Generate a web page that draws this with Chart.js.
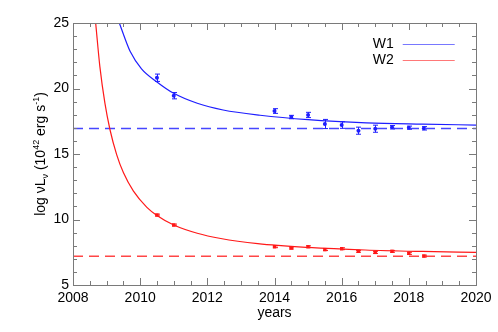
<!DOCTYPE html>
<html><head><meta charset="utf-8">
<script src="https://cdn.jsdelivr.net/npm/chart.js@4/dist/chart.umd.min.js"></script>
<style>html,body{margin:0;padding:0;background:#fff}</style>
</head><body>
<canvas id="c" width="498" height="332" style="width:498px;height:332px;display:block"></canvas>
<script>
// ---- data ----
const epochs   = [2010.5, 2011.0, 2014.0, 2014.5, 2015.0, 2015.5, 2016.0, 2016.5, 2017.0, 2017.5, 2018.0, 2018.45];
const w1Values = [20.82, 19.45, 18.28, 17.82, 17.98, 17.29, 17.21, 16.78, 16.93, 17.04, 17.01, 16.96];
const w1Errors = [0.28, 0.24, 0.18, 0.13, 0.20, 0.35, 0.25, 0.27, 0.27, 0.13, 0.12, 0.13];
const w2Values = [10.34, 9.58, 7.92, 7.82, 7.92, 7.70, 7.77, 7.57, 7.49, 7.57, 7.42, 7.21];
const w2Errors = [0.07, 0.07, 0.07, 0.07, 0.07, 0.07, 0.07, 0.07, 0.08, 0.07, 0.08, 0.07];
const w1CurveX = [2009.38, 2009.55, 2009.70, 2010.04, 2010.49, 2011.0, 2011.7, 2012.47, 2013.57, 2015.0, 2016.74, 2018.4, 2020.0];
const w1CurveY = [25.0, 23.8, 22.85, 21.5, 20.52, 19.63, 18.87, 18.36, 17.96, 17.62, 17.38, 17.28, 17.21];
const w2CurveX = [2008.675, 2008.80, 2008.95, 2009.10, 2009.30, 2009.50, 2009.80, 2010.20, 2010.50, 2011.0, 2011.7, 2012.4, 2013.5, 2015.0, 2016.7, 2018.4, 2020.0];
const w2CurveY = [25.0, 21.67, 18.88, 16.87, 14.95, 13.58, 12.16, 10.93, 10.31, 9.58, 8.95, 8.55, 8.16, 7.87, 7.67, 7.56, 7.49];
const w1Floor = 16.95;
const w2Floor = 7.2;
const xRange = [2008, 2020];
const yRange = [5, 25];
const xMajorStep = 2, xMinorStep = 0.5;
const yMajorStep = 5, yMinorStep = 1;
const legendNames = ['W1', 'W2'];

const BLUE = 'rgb(30,30,255)', RED = 'rgb(255,25,25)';
const FONT = '"Liberation Sans", Arial, Helvetica, sans-serif';

function pts(xs, ys) { return xs.map((x, i) => ({x, y: ys[i]})); }

const errorBars = {
  id: 'errorBars',
  afterDatasetsDraw(chart) {
    const ctx = chart.ctx, ys = chart.scales.y;
    chart.data.datasets.forEach((ds, i) => {
      if (!ds.errors) return;
      const meta = chart.getDatasetMeta(i);
      ctx.save();
      ctx.strokeStyle = ds.borderColor; ctx.lineWidth = 1;
      meta.data.forEach((el, j) => {
        const v = ds.data[j].y, e = ds.errors[j];
        const x = Math.round(el.x) + 0.5;
        const y1 = ys.getPixelForValue(v + e), y2 = ys.getPixelForValue(v - e);
        ctx.beginPath();
        ctx.moveTo(x, y1); ctx.lineTo(x, y2);
        ctx.moveTo(x - 2.5, y1); ctx.lineTo(x + 2.5, y1);
        ctx.moveTo(x - 2.5, y2); ctx.lineTo(x + 2.5, y2);
        ctx.stroke();
      });
      ctx.restore();
    });
  }
};

const frameTicks = {
  id: 'frameTicks',
  afterDraw(chart) {
    const ctx = chart.ctx, a = chart.chartArea, xs = chart.scales.x, ys = chart.scales.y;
    ctx.save();
    ctx.strokeStyle = '#7a7a7a'; ctx.lineWidth = 1;
    ctx.strokeRect(Math.round(a.left) + 0.5, Math.round(a.top) + 0.5, Math.round(a.right - a.left), Math.round(a.bottom - a.top));
    ctx.beginPath();
    const nX = Math.round((xRange[1] - xRange[0]) / xMinorStep);
    for (let k = 1; k < nX; k++) {
      const v = xRange[0] + k * xMinorStep;
      const q = (v - xRange[0]) / xMajorStep;
      const major = Math.abs(q - Math.round(q)) < 1e-6;
      const L = major ? 7 : 4;
      const px = Math.round(xs.getPixelForValue(v)) + 0.5;
      ctx.moveTo(px, a.bottom); ctx.lineTo(px, a.bottom - L);
      ctx.moveTo(px, a.top); ctx.lineTo(px, a.top + L);
    }
    const nY = Math.round((yRange[1] - yRange[0]) / yMinorStep);
    for (let k = 1; k < nY; k++) {
      const v = yRange[0] + k * yMinorStep;
      const major = (v - yRange[0]) % yMajorStep === 0;
      const L = major ? 7 : 4;
      const py = Math.round(ys.getPixelForValue(v)) + 0.5;
      ctx.moveTo(a.left, py); ctx.lineTo(a.left + L, py);
      ctx.moveTo(a.right, py); ctx.lineTo(a.right - L, py);
    }
    ctx.stroke();

    // y-axis title with sub/superscripts
    const segs = [
      {t: 'log νL', s: 0}, {t: 'ν', s: -1}, {t: ' (10', s: 0}, {t: '42', s: 1},
      {t: ' erg s', s: 0}, {t: '-1', s: 1}, {t: ')', s: 0}
    ];
    const big = '14px ' + FONT, small = '9px ' + FONT;
    let total = 0;
    segs.forEach(g => { ctx.font = g.s ? small : big; g.w = ctx.measureText(g.t).width; total += g.w; });
    ctx.translate(40, (a.top + a.bottom) / 2);
    ctx.rotate(-Math.PI / 2);
    ctx.fillStyle = '#000'; ctx.textBaseline = 'alphabetic'; ctx.textAlign = 'left';
    let cx = -total / 2;
    segs.forEach(g => {
      ctx.font = g.s ? small : big;
      const dy = g.s === 1 ? -1 : (g.s === -1 ? 8 : 5);
      ctx.fillText(g.t, cx, dy);
      cx += g.w;
    });
    ctx.restore();

    // legend
    ctx.save();
    ctx.font = '14px ' + FONT; ctx.fillStyle = '#000';
    ctx.textAlign = 'right'; ctx.textBaseline = 'middle';
    const lx = xs.getPixelForValue(2017.55), y0 = a.top + 21;
    const cols = ['rgb(120,120,255)', 'rgb(255,120,120)'];
    legendNames.forEach((n, i) => {
      const yy = y0 + i * 16;
      ctx.fillText(n, lx, yy);
      ctx.strokeStyle = cols[i]; ctx.lineWidth = 1;
      ctx.beginPath(); ctx.moveTo(lx + 9, Math.round(yy) + 0.5); ctx.lineTo(lx + 61, Math.round(yy) + 0.5); ctx.stroke();
    });
    ctx.restore();
  }
};

new Chart(document.getElementById('c'), {
  type: 'scatter',
  data: {
    datasets: [
      {data: pts(w1CurveX, w1CurveY), showLine: true, borderColor: BLUE, borderWidth: 1.2, pointRadius: 0, cubicInterpolationMode: 'monotone'},
      {data: pts(w2CurveX, w2CurveY), showLine: true, borderColor: RED, borderWidth: 1.2, pointRadius: 0, cubicInterpolationMode: 'monotone'},
      {data: pts(xRange, [w1Floor, w1Floor]), showLine: true, borderColor: 'rgb(70,70,255)', borderWidth: 1.5, borderDash: [10, 6], pointRadius: 0},
      {data: pts(xRange, [w2Floor, w2Floor]), showLine: true, borderColor: 'rgb(255,70,70)', borderWidth: 1.5, borderDash: [10, 6], pointRadius: 0},
      {data: pts(epochs, w1Values), errors: w1Errors, borderColor: BLUE, backgroundColor: BLUE, pointRadius: 2, pointStyle: 'circle', borderWidth: 0},
      {data: pts(epochs, w2Values), errors: w2Errors, borderColor: RED, backgroundColor: RED, pointRadius: 2.4, pointStyle: 'rect', borderWidth: 0}
    ]
  },
  options: {
    responsive: false, animation: false, devicePixelRatio: 1,
    layout: {padding: {top: 23, right: 22, left: 0, bottom: 0}},
    plugins: {legend: {display: false}, tooltip: {enabled: false}},
    scales: {
      x: {
        type: 'linear', min: xRange[0], max: xRange[1],
        grid: {display: false, drawTicks: false}, border: {display: false},
        ticks: {stepSize: xMajorStep, color: '#000', padding: 5, font: {size: 14, family: FONT}, callback: v => String(v), maxRotation: 0},
        title: {display: true, text: 'years', color: '#000', font: {size: 14, family: FONT}, padding: {top: 0, bottom: 10}},
        afterFit: s => { s.height = 47; }
      },
      y: {
        min: yRange[0], max: yRange[1],
        grid: {display: false, drawTicks: false}, border: {display: false},
        ticks: {stepSize: yMajorStep, color: '#000', padding: 4, font: {size: 14, family: FONT}},
        afterFit: s => { s.width = 73; }
      }
    }
  },
  plugins: [errorBars, frameTicks]
});
</script>
</body></html>
